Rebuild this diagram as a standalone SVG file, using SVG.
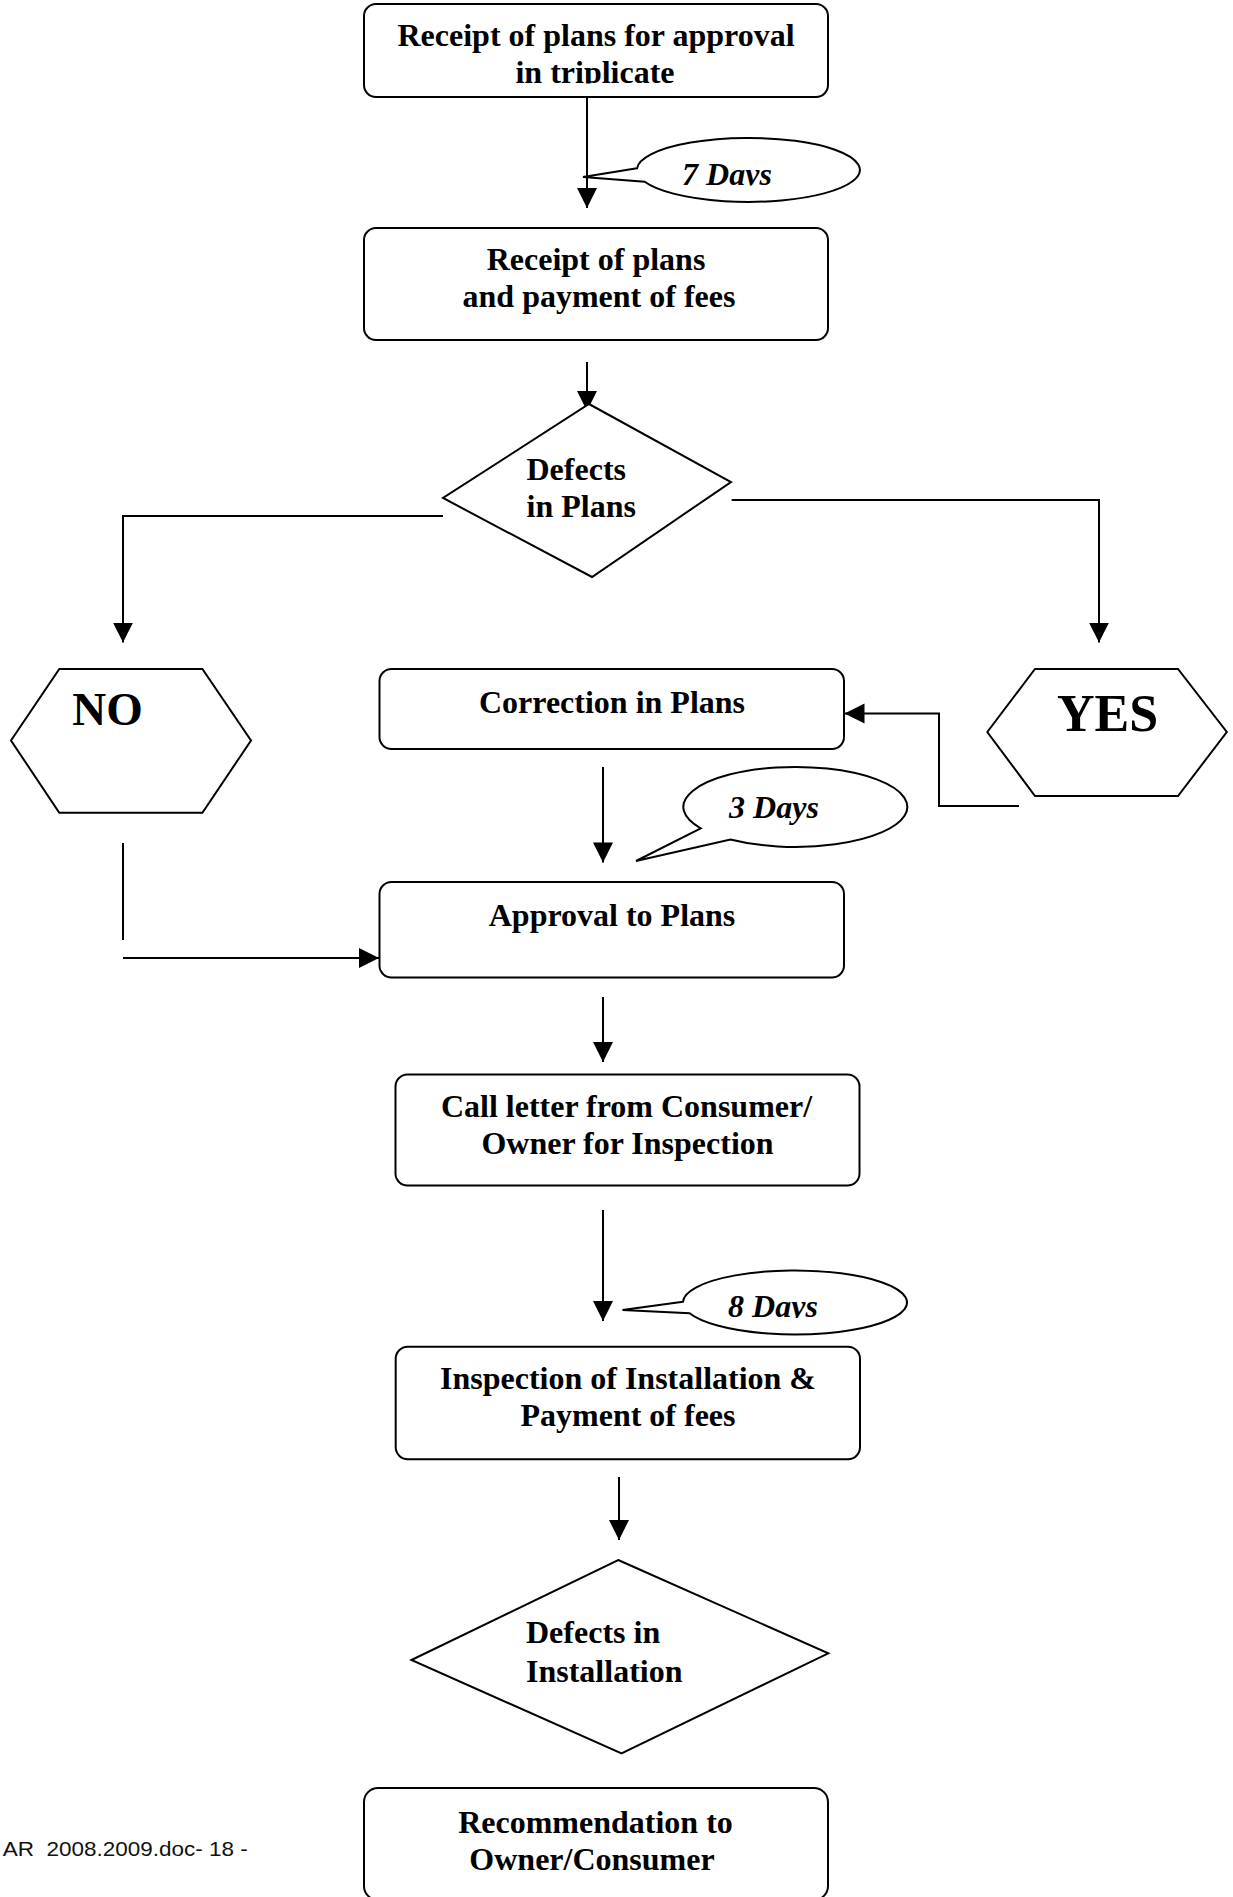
<svg xmlns="http://www.w3.org/2000/svg" width="1233" height="1897" viewBox="0 0 1233 1897">
<style>
.box{fill:#fff;stroke:#000;stroke-width:2}
.shape{fill:#fff;stroke:#000;stroke-width:2}
.ln{fill:none;stroke:#000;stroke-width:2}
.t{font-family:"Liberation Serif","Times New Roman",serif;font-weight:bold;font-size:32px;fill:#000;text-anchor:middle}
.ts{font-family:"Liberation Serif","Times New Roman",serif;font-weight:bold;font-size:32px;fill:#000;text-anchor:start}
.ti{font-family:"Liberation Serif","Times New Roman",serif;font-weight:bold;font-style:italic;font-size:32px;fill:#000;text-anchor:middle}
.big{font-family:"Liberation Serif","Times New Roman",serif;font-weight:bold;fill:#000;text-anchor:middle}
.foot{font-family:"Liberation Sans",Arial,sans-serif;font-size:21px;fill:#111}
</style>
<defs>
<marker id="arr" markerUnits="userSpaceOnUse" markerWidth="22" markerHeight="22" refX="20" refY="10" orient="auto">
<path d="M0,0 L20,10 L0,20 Z" fill="#000"/>
</marker>
<clipPath id="c1"><rect x="364" y="0" width="464" height="83.5"/></clipPath>
<clipPath id="c7"><rect x="600" y="130" width="280" height="55.5"/></clipPath>
<clipPath id="c8"><rect x="620" y="1260" width="300" height="58"/></clipPath>
</defs>

<g id="connectors">
<line class="ln" x1="587" y1="97" x2="587" y2="208" marker-end="url(#arr)"/>
<line class="ln" x1="587" y1="362" x2="587" y2="411" marker-end="url(#arr)"/>
<path class="ln" d="M443,516 H123 V642.6" marker-end="url(#arr)"/>
<path class="ln" d="M731.6,500 H1099 V642.6" marker-end="url(#arr)"/>
<path class="ln" d="M1019,806 H939 V713.6 H844.5" marker-end="url(#arr)"/>
<line class="ln" x1="603" y1="767" x2="603" y2="862.4" marker-end="url(#arr)"/>
<line class="ln" x1="123" y1="843" x2="123" y2="940"/>
<line class="ln" x1="123" y1="958" x2="379" y2="958" marker-end="url(#arr)"/>
<line class="ln" x1="603" y1="997" x2="603" y2="1062" marker-end="url(#arr)"/>
<line class="ln" x1="603" y1="1210" x2="603" y2="1321" marker-end="url(#arr)"/>
<line class="ln" x1="619" y1="1477" x2="619" y2="1540" marker-end="url(#arr)"/>
</g>

<g id="callout-7days">
<path class="shape" d="M637,168.3 L583,177 L644.7,181.7 A111.5 32 0 1 0 637,168.3 Z"/>
<text class="ti" x="727" y="184.5" clip-path="url(#c7)">7 Days</text>
</g>

<g id="callout-3days">
<path class="shape" d="M700.7,828.3 L636,861 L730.4,839.5 A112 40 0 1 0 700.7,828.3 Z"/>
<text class="ti" x="774" y="818">3 Days</text>
</g>

<g id="callout-8days">
<path class="shape" d="M683,1301.7 L622.5,1310 L689.6,1313.3 A112 32 0 1 0 683,1301.7 Z"/>
<text class="ti" x="773" y="1317" clip-path="url(#c8)">8 Days</text>
</g>

<g id="node-receipt-triplicate">
<rect class="box" x="364" y="4" width="464" height="93" rx="12"/>
<text class="t" x="596" y="45.5">Receipt of plans for approval</text>
<text class="t" x="595" y="83" clip-path="url(#c1)">in triplicate</text>
</g>

<g id="node-receipt-fees">
<rect class="box" x="364" y="228" width="464" height="112" rx="12"/>
<text class="t" x="596" y="270">Receipt of plans</text>
<text class="t" x="599" y="307">and payment of fees</text>
</g>

<g id="node-defects-plans">
<polygon class="shape" points="589,404 731,482 592,577 443,498"/>
<text class="ts" x="526.5" y="480">Defects</text>
<text class="ts" x="526.5" y="517">in Plans</text>
</g>

<g id="node-no">
<polygon class="shape" points="11,740.5 59.3,669 202.4,669 251,740.5 202.4,812.8 59.3,812.8"/>
<text class="big" x="107.5" y="725" font-size="47">NO</text>
</g>

<g id="node-yes">
<polygon class="shape" points="987.3,732 1035,669 1178,669 1226.8,732 1178,796 1035,796"/>
<text class="big" x="1107.5" y="731" font-size="52">YES</text>
</g>

<g id="node-correction">
<rect class="box" x="379.5" y="669" width="464.5" height="80" rx="12"/>
<text class="t" x="612" y="712.8">Correction in Plans</text>
</g>

<g id="node-approval">
<rect class="box" x="379.5" y="882" width="464.5" height="95.5" rx="12"/>
<text class="t" x="612" y="926">Approval to Plans</text>
</g>

<g id="node-call-letter">
<rect class="box" x="395.5" y="1074.5" width="464" height="111" rx="12"/>
<text class="t" x="626.5" y="1117.3">Call letter from Consumer/</text>
<text class="t" x="627.5" y="1154">Owner for Inspection</text>
</g>

<g id="node-inspection">
<rect class="box" x="395.7" y="1346.7" width="464.3" height="112.6" rx="12"/>
<text class="t" x="628" y="1389.3">Inspection of Installation &amp;</text>
<text class="t" x="628" y="1426">Payment of fees</text>
</g>

<g id="node-defects-installation">
<polygon class="shape" points="618.2,1560 828.3,1653.3 621.5,1753.3 411.4,1660"/>
<text class="ts" x="526" y="1643">Defects in</text>
<text class="ts" x="526" y="1681.5">Installation</text>
</g>

<g id="node-recommendation">
<rect class="box" x="364" y="1788" width="464" height="112" rx="14"/>
<text class="t" x="595.5" y="1833">Recommendation to</text>
<text class="t" x="592" y="1869.5">Owner/Consumer</text>
</g>

<text class="foot" x="2.7" y="1856" xml:space="preserve" textLength="245" lengthAdjust="spacingAndGlyphs">AR  2008.2009.doc- 18 -</text>
</svg>
